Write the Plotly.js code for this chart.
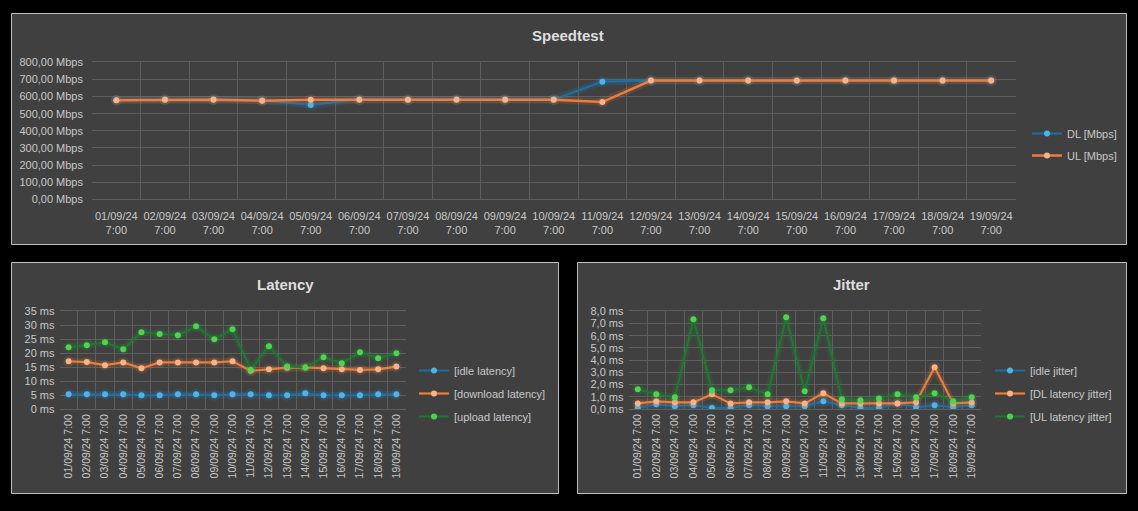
<!DOCTYPE html>
<html>
<head>
<meta charset="utf-8">
<script src="https://cdn.plot.ly/plotly-3.0.1.min.js"></script>
<style>html,body{margin:0;padding:0;background:#000;}#chart{width:1138px;height:511px;}</style>
</head>
<body>
<div id="chart"></div>
<script>
// ---------- data ----------
const dates = ["01/09/24","02/09/24","03/09/24","04/09/24","05/09/24","06/09/24","07/09/24","08/09/24","09/09/24","10/09/24","11/09/24","12/09/24","13/09/24","14/09/24","15/09/24","16/09/24","17/09/24","18/09/24","19/09/24"];
const timeOfDay = "7:00";

const dlMbps = [579, 583, 583, 577, 551, 583, 582, 583, 583, 583, 687, 693, 693, 694, 692, 693, 693, 693, 694];
const ulMbps = [578, 582, 582, 576, 582, 582, 582, 582, 582, 582, 568, 693, 693, 694, 693, 693, 693, 693, 693];

const idleLatency     = [5.3, 5.3, 5.3, 5.3, 4.9, 4.9, 5.3, 5.3, 4.9, 5.3, 5.3, 4.9, 4.9, 5.6, 4.9, 4.9, 4.9, 5.3, 5.3];
const downloadLatency = [17.1, 16.8, 15.7, 16.7, 14.6, 16.7, 16.7, 16.7, 16.7, 17.1, 13.7, 14.2, 14.8, 14.9, 14.6, 14.2, 14.0, 14.2, 15.2];
const uploadLatency   = [22.1, 22.8, 23.9, 21.4, 27.5, 26.9, 26.4, 29.6, 25.0, 28.6, 14.1, 22.5, 15.2, 14.9, 18.5, 16.4, 20.3, 18.2, 20.0];

const idleJitter = [0.08, 0.38, 0.22, 0.30, 0.08, 0.08, 0.30, 0.22, 0.22, 0.22, 0.63, 0.30, 0.08, 0.08, 0.46, 0.14, 0.30, 0.14, 0.30];
const dlJitter   = [0.46, 0.63, 0.55, 0.55, 1.20, 0.46, 0.55, 0.55, 0.63, 0.46, 1.28, 0.46, 0.46, 0.46, 0.46, 0.55, 3.42, 0.46, 0.55];
const ulJitter   = [1.61, 1.20, 0.96, 7.35, 1.53, 1.53, 1.78, 1.20, 7.51, 1.45, 7.43, 0.79, 0.71, 0.87, 1.20, 0.96, 1.28, 0.63, 0.96];

// ---------- style ----------
const W = 1138, H = 511;
const px = v => v / W;
const py = v => 1 - v / H;
const C = {
  blueLine: "#1b6fa3", blueMark: "#4fb2e8", blueGlow: "rgba(40,140,210,0.14)",
  orangeLine: "#ee7d3b", orangeMark: "#f6b48b", orangeGlow: "rgba(240,125,55,0.14)",
  greenLine: "#1c7a30", greenMark: "#4fd44f", greenGlow: "rgba(40,170,60,0.13)",
  grid: "#5e5e5e", tick: "#c8c8c8", title: "#dedede", panel: "#404040", border: "#c0c0c0"
};
const FONT = "Liberation Sans, Arial, sans-serif";

const speedCats = dates.map(d => d + "<br>" + timeOfDay);
const smallCats = dates.map(d => d + " " + timeOfDay);

function series(x, y, name, xa, ya, legend, lc, mc, glow, lw, ms) {
  return [
    {x, y, xaxis: xa, yaxis: ya, type: "scatter", mode: "lines+markers", showlegend: false, hoverinfo: "skip",
     line: {color: glow, width: lw + 5}, marker: {color: glow, size: ms + 5}},
    {x, y, xaxis: xa, yaxis: ya, type: "scatter", mode: "lines+markers", name, legend, legendgroup: name,
     line: {color: lc, width: lw}, marker: {color: mc, size: ms}}
  ];
}

const traces = [].concat(
  series(speedCats, dlMbps, "DL [Mbps]", "x", "y", "legend", C.blueLine, C.blueMark, C.blueGlow, 2.2, 6),
  series(speedCats, ulMbps, "UL [Mbps]", "x", "y", "legend", C.orangeLine, C.orangeMark, C.orangeGlow, 2.5, 6),
  series(smallCats, idleLatency, "[idle latency]", "x2", "y2", "legend2", C.blueLine, C.blueMark, C.blueGlow, 2, 6),
  series(smallCats, downloadLatency, "[download latency]", "x2", "y2", "legend2", C.orangeLine, C.orangeMark, C.orangeGlow, 2.2, 6),
  series(smallCats, uploadLatency, "[upload latency]", "x2", "y2", "legend2", C.greenLine, C.greenMark, C.greenGlow, 2, 6),
  series(smallCats, idleJitter, "[idle jitter]", "x3", "y3", "legend3", C.blueLine, C.blueMark, C.blueGlow, 2, 6),
  series(smallCats, dlJitter, "[DL latency jitter]", "x3", "y3", "legend3", C.orangeLine, C.orangeMark, C.orangeGlow, 2.2, 6),
  series(smallCats, ulJitter, "[UL latency jitter]", "x3", "y3", "legend3", C.greenLine, C.greenMark, C.greenGlow, 2, 6)
);

function xAxis(domain, anchor, angle, size) {
  return {domain, anchor, type: "category", tickson: "boundaries", range: [-0.5, 18.5],
    showgrid: true, gridcolor: C.grid, gridwidth: 1, showline: true, linecolor: C.grid, mirror: true,
    ticks: "", tickangle: angle, tickfont: {family: FONT, size, color: C.tick}, fixedrange: true, automargin: false};
}
function yAxis(domain, anchor, range, dtick, fmt, size) {
  return {domain, anchor, range, dtick, tickformat: fmt, ticksuffix: " ms",
    showgrid: true, gridcolor: C.grid, gridwidth: 1, zeroline: false, showline: false,
    ticks: "", ticklabelstandoff: 4, tickfont: {family: FONT, size, color: C.tick}, fixedrange: true, automargin: false};
}

const yS = yAxis([py(199.3), py(62.3)], "x", [0, 800], 100, ".2f", 11);
yS.ticksuffix = " Mbps";
yS.ticklabelstandoff = 8;

const legendBase = {bgcolor: "rgba(0,0,0,0)", borderwidth: 0, xanchor: "left", yanchor: "top",
  traceorder: "grouped", itemwidth: 30, font: {family: FONT, size: 11, color: C.tick}};

const layout = {
  width: W, height: H, autosize: false,
  margin: {l: 0, r: 0, t: 0, b: 0},
  paper_bgcolor: "#000000", plot_bgcolor: "rgba(0,0,0,0)",
  separators: ",.",
  showlegend: true,
  xaxis: Object.assign(xAxis([px(92), px(1015.5)], "y", 0, 11), {ticklabelstandoff: 6}),
  yaxis: yS,
  xaxis2: xAxis([px(59.5), px(405.5)], "y2", -90, 10.5),
  yaxis2: yAxis([py(409), py(311.3)], "x2", [0, 35], 5, "d", 11),
  xaxis3: xAxis([px(628.5), px(981)], "y3", -90, 10.5),
  yaxis3: yAxis([py(409), py(311.3)], "x3", [0, 8], 1, ".1f", 11),
  legend: Object.assign({}, legendBase, {x: px(1027), y: py(119), tracegroupgap: 3}),
  legend2: Object.assign({}, legendBase, {x: px(414), y: py(356), tracegroupgap: 4}),
  legend3: Object.assign({}, legendBase, {x: px(990), y: py(356), tracegroupgap: 4}),
  shapes: [
    {type: "rect", xref: "paper", yref: "paper", x0: px(11.5), x1: px(1126.5), y0: py(244.5), y1: py(13.5),
     fillcolor: C.panel, line: {color: C.border, width: 1}, layer: "below"},
    {type: "rect", xref: "paper", yref: "paper", x0: px(11.5), x1: px(558.5), y0: py(493.5), y1: py(262.5),
     fillcolor: C.panel, line: {color: C.border, width: 1}, layer: "below"},
    {type: "rect", xref: "paper", yref: "paper", x0: px(577.5), x1: px(1126.5), y0: py(493.5), y1: py(262.5),
     fillcolor: C.panel, line: {color: C.border, width: 1}, layer: "below"}
  ],
  annotations: [
    {text: "<b>Speedtest</b>", xref: "paper", yref: "paper", x: px(568), y: py(35.5), showarrow: false,
     xanchor: "center", yanchor: "middle", font: {family: FONT, size: 15, color: C.title}},
    {text: "<b>Latency</b>", xref: "paper", yref: "paper", x: px(285), y: py(284.5), showarrow: false,
     xanchor: "center", yanchor: "middle", font: {family: FONT, size: 15, color: C.title}},
    {text: "<b>Jitter</b>", xref: "paper", yref: "paper", x: px(851), y: py(284.5), showarrow: false,
     xanchor: "center", yanchor: "middle", font: {family: FONT, size: 15, color: C.title}}
  ]
};

Plotly.newPlot("chart", traces, layout, {displayModeBar: false, staticPlot: true});
</script>
</body>
</html>
